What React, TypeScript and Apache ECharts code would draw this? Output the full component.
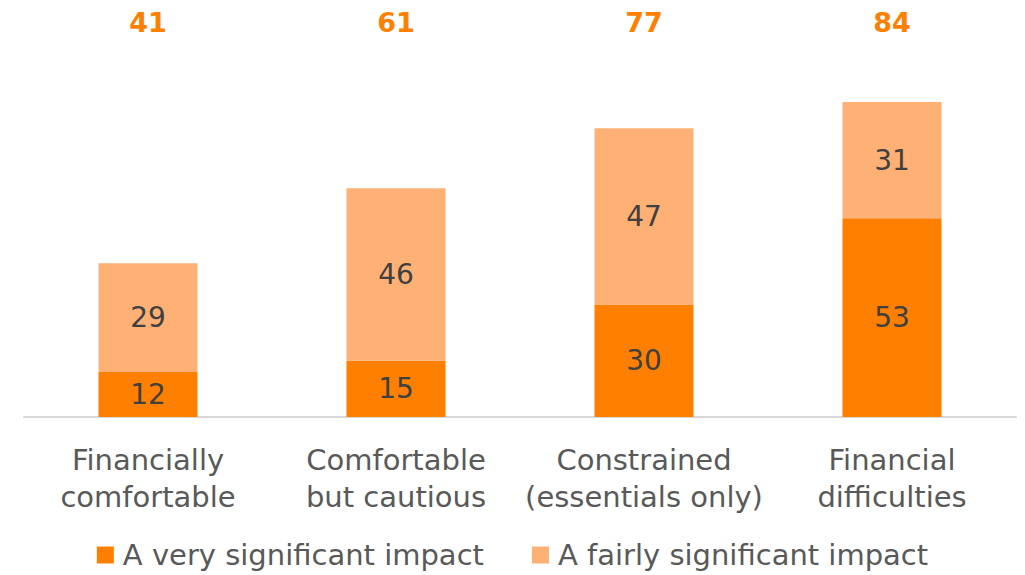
import React, { useEffect, useRef } from "react";
import * as echarts from "echarts";

const categories = ["Financially\ncomfortable", "Comfortable\nbut cautious", "Constrained\n(essentials only)", "Financial\ndifficulties"];
const verySignificant = [12, 15, 30, 53];
const fairlySignificant = [29, 46, 47, 31];
const totals = [41, 61, 77, 84];
const seriesNames = ["A very significant impact", "A fairly significant impact"];

const FONT = "DejaVu Sans";
const DARK = "#FF7F00";
const LIGHT = "#FFB074";

export default function App() {
  const ref = useRef<HTMLDivElement>(null);
  useEffect(() => {
    if (!ref.current) return;
    const chart = echarts.init(ref.current, undefined, { renderer: "svg" });
    chart.setOption({
      animation: false,
      textStyle: { fontFamily: FONT },
      grid: { left: 24, right: 9, top: 42, bottom: 158, containLabel: false },
      legend: {
        data: seriesNames,
        top: 539,
        left: "center",
        icon: "rect",
        itemWidth: 17,
        itemHeight: 17,
        itemGap: 48,
        padding: 0,
        textStyle: { fontFamily: FONT, fontSize: 29, color: "#595959", lineHeight: 32, padding: [0, 0, 0, 4] },
      },
      xAxis: [
        {
          type: "category",
          data: categories,
          axisLine: { show: true, lineStyle: { color: "#D9D9D9", width: 2 } },
          axisTick: { show: false },
          axisLabel: {
            fontFamily: FONT,
            fontSize: 29,
            color: "#595959",
            lineHeight: 37,
            margin: 24,
            interval: 0,
          },
        },
        {
          type: "category",
          position: "top",
          data: totals.map(String),
          axisLine: { show: false },
          axisTick: { show: false },
          axisLabel: {
            fontFamily: FONT,
            fontSize: 27,
            fontWeight: "bold",
            color: DARK,
            margin: 6,
            interval: 0,
          },
        },
      ],
      yAxis: {
        type: "value",
        min: 0,
        max: 100,
        show: false,
        splitLine: { show: false },
      },
      series: [
        {
          name: seriesNames[0],
          type: "bar",
          stack: "total",
          data: verySignificant,
          barWidth: 99,
          itemStyle: { color: DARK },
          label: { show: true, position: "inside", fontFamily: FONT, fontSize: 28, color: "#404040" },
        },
        {
          name: seriesNames[1],
          type: "bar",
          stack: "total",
          data: fairlySignificant,
          barWidth: 99,
          itemStyle: { color: LIGHT },
          label: { show: true, position: "inside", fontFamily: FONT, fontSize: 28, color: "#404040" },
        },
      ],
    });
    return () => chart.dispose();
  }, []);
  return (
    <div
      ref={ref}
      style={{ position: "fixed", left: 0, top: 0, width: 1025, height: 575, background: "#fff" }}
    />
  );
}
